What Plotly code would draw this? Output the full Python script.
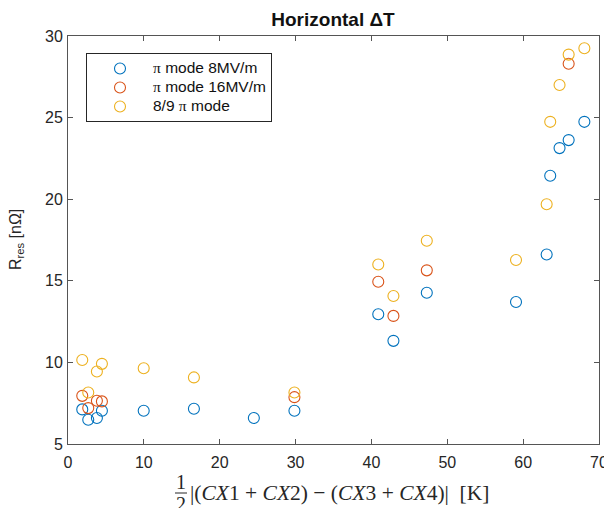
import plotly.graph_objects as go

# ---- data ----
x_blue = [1.88, 2.67, 3.81, 4.47, 9.98, 16.6, 24.5, 29.85, 40.9, 42.9, 47.3, 59.06, 63.1, 63.57, 64.8, 66.0, 68.07]
y_blue = [7.12, 6.49, 6.59, 7.04, 7.04, 7.16, 6.59, 7.04, 12.95, 11.32, 14.27, 13.7, 16.61, 21.44, 23.13, 23.62, 24.74]

x_red = [1.88, 2.67, 3.81, 4.47, 29.85, 40.9, 42.9, 47.3, 66.0]
y_red = [7.95, 7.2, 7.65, 7.61, 7.87, 14.94, 12.85, 15.64, 28.3]

x_yel = [1.88, 2.67, 3.81, 4.47, 9.98, 16.6, 29.85, 40.9, 42.9, 47.3, 59.06, 63.1, 63.57, 64.8, 66.0, 68.07]
y_yel = [10.15, 8.16, 9.44, 9.91, 9.64, 9.08, 8.16, 16.0, 14.07, 17.45, 16.27, 19.69, 24.74, 27.0, 28.86, 29.25]

PI = "<span style='font-family:Liberation Serif'>π</span>"
names = [PI + " mode 8MV/m", PI + " mode 16MV/m", "8/9 " + PI + " mode"]
colors = ["#0072BD", "#D95319", "#EDB120"]

x_ticks = [0, 10, 20, 30, 40, 50, 60, 70]
y_ticks = [5, 10, 15, 20, 25, 30]

# the page body adds an 8px offset; work in reference pixel coords and shift
OFF = 8
FW, FH = 612 - OFF, 508 - OFF
L, R, T, B = 68 - OFF, 599 - OFF, 36 - OFF, 444 - OFF
W, H = R - L, B - T

def px(xp):
    return (xp - OFF - L) / W

def py(yp):
    return 1 - (yp - OFF - T) / H

fig = go.Figure()
for xs, ys, nm, c in zip([x_blue, x_red, x_yel], [y_blue, y_red, y_yel], names, colors):
    fig.add_trace(go.Scatter(x=xs, y=ys, mode="markers",
                             name="<span style='font-size:15.5px'>" + nm + "</span>",
                             marker=dict(symbol="circle-open", size=11, color=c,
                                         line=dict(width=1.1, color=c))))

axcol = "#555555"
tickfont = dict(family="Liberation Sans, Arial", size=16, color="#262626")
fig.update_xaxes(range=[0, 70], tickvals=x_ticks, ticks="inside", ticklen=5,
                 tickcolor=axcol, showline=True, linecolor=axcol, linewidth=1,
                 mirror="ticks", showgrid=False, zeroline=False, automargin=False,
                 tickfont=tickfont, ticklabelstandoff=4)
fig.update_yaxes(range=[5, 30], tickvals=y_ticks, ticks="inside", ticklen=5,
                 tickcolor=axcol, showline=True, linecolor=axcol, linewidth=1,
                 mirror="ticks", showgrid=False, zeroline=False, automargin=False,
                 tickfont=tickfont, ticklabelstandoff=1)

serif = "Liberation Serif, Times New Roman"
# x-axis label (fraction 1/2 + expression)
fig.add_annotation(text="1", x=px(181), y=py(482), xref="paper", yref="paper",
                   xanchor="center", yanchor="middle", showarrow=False,
                   font=dict(family=serif, size=20, color="#262626"))
fig.add_annotation(text="2", x=px(181), y=py(504), xref="paper", yref="paper",
                   xanchor="center", yanchor="middle", showarrow=False,
                   font=dict(family=serif, size=20, color="#262626"))
fig.add_shape(type="line", xref="paper", yref="paper",
              x0=px(175), x1=px(187), y0=py(493), y1=py(493),
              line=dict(color="#262626", width=1))
fig.add_annotation(text="|(<i>CX</i>1 + <i>CX</i>2) − (<i>CX</i>3 + <i>CX</i>4)|  [K]",
                   x=px(188), y=py(493), xref="paper", yref="paper",
                   xanchor="left", yanchor="middle", showarrow=False,
                   font=dict(family=serif, size=21.5, color="#262626"))
# y-axis label
fig.add_annotation(text="R<sub>res</sub> [nΩ]", x=px(16), y=py(240), xref="paper", yref="paper",
                   xanchor="center", yanchor="middle", showarrow=False, textangle=-90,
                   font=dict(family="Liberation Sans, Arial", size=16, color="#262626"))

fig.update_layout(
    width=FW, height=FH,
    margin=dict(l=L, r=FW - R, t=T, b=FH - B, autoexpand=False),
    paper_bgcolor="white", plot_bgcolor="white",
    title=dict(text="<b>Horizontal ΔT</b>", x=(333 - OFF) / FW, xanchor="center",
               y=1 - (19 - OFF) / FH, yanchor="middle", xref="container", yref="container",
               font=dict(family="Liberation Sans, Arial", size=19, color="#111111")),
    showlegend=True,
    legend=dict(x=px(86), y=py(53), xanchor="left", yanchor="top",
                bordercolor="#262626", borderwidth=1, bgcolor="white",
                font=dict(family="Liberation Sans, Arial", size=12, color="#111111"),
                itemwidth=56, tracegroupgap=0),
)

fig.write_html("out.html")
